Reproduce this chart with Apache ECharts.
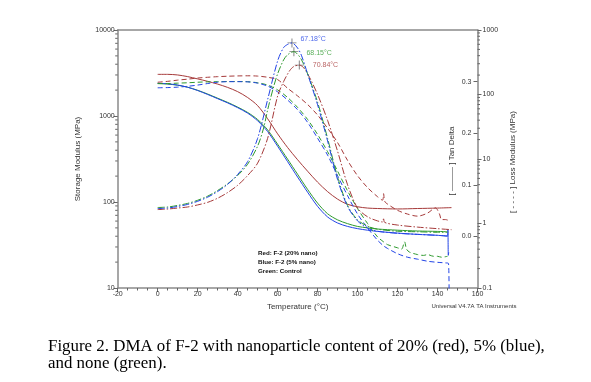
<!DOCTYPE html>
<html><head><meta charset="utf-8">
<script src="https://cdn.jsdelivr.net/npm/echarts@6/dist/echarts.min.js"></script>
<style>html,body{margin:0;padding:0;background:#fff}#c{width:591px;height:382px}</style>
</head><body><div id="c"></div>
<script>
// Storage modulus (MPa) vs temperature (°C)
const redStorage = [[0,3050],[5,3050],[10,3000],[15,2870],[20,2700],[25,2530],[30,2350],[35,2150],[40,1920],[45,1640],[50,1320],[55,930],[60,620],[65,430],[70,310],[75,228],[80,170],[85,132],[90,108],[95,94],[100,88],[105,85],[110,84],[120,83],[130,84],[140,85],[147,86]];
const blueStorage = [[0,2400],[5,2370],[10,2290],[15,2160],[20,1980],[25,1780],[30,1590],[35,1420],[40,1250],[45,1080],[50,880],[55,660],[60,445],[65,295],[70,195],[75,130],[80,89],[85,67],[90,57],[95,52],[100,49],[105,47],[110,45.5],[120,43.5],[130,42],[140,41],[145,40],[145.2,48],[145.4,24],[145.6,26]];
const greenStorage = [[0,2380],[5,2350],[10,2280],[15,2160],[20,1990],[25,1800],[30,1610],[35,1440],[40,1270],[45,1100],[50,910],[55,690],[60,470],[65,315],[70,210],[75,140],[80,97],[85,73],[90,62],[95,56],[100,52],[105,50],[110,48.5],[120,47],[130,46],[140,45.5],[145,45]];
// Tan delta
const redTan = [[0,0.052],[5,0.053],[10,0.055],[15,0.057],[20,0.061],[25,0.066],[30,0.074],[35,0.085],[40,0.099],[45,0.118],[50,0.142],[55,0.19],[60,0.272],[63,0.3],[66,0.321],[68,0.329],[70.84,0.332],[73,0.327],[76,0.308],[80,0.275],[85,0.225],[90,0.165],[95,0.1],[100,0.055],[105,0.038],[110,0.03],[112.5,0.028],[113,0.034],[113.6,0.027],[120,0.022],[130,0.018],[140,0.015],[147,0.013]];
const blueTan = [[0,0.054],[5,0.055],[10,0.058],[15,0.062],[20,0.068],[25,0.076],[30,0.087],[35,0.101],[40,0.12],[45,0.145],[50,0.19],[55,0.265],[60,0.34],[63,0.366],[65,0.372],[67.18,0.375],[70,0.365],[72,0.35],[75,0.315],[80,0.255],[85,0.185],[90,0.11],[95,0.058],[100,0.03],[105,0.016],[110,0.01],[120,0.006],[130,0.004],[140,0.002],[145,0.001]];
const greenTan = [[0,0.056],[5,0.057],[10,0.06],[15,0.064],[20,0.07],[25,0.078],[30,0.089],[35,0.102],[40,0.118],[45,0.14],[50,0.175],[53,0.21],[55,0.245],[58,0.29],[60,0.315],[63,0.342],[65,0.352],[68.15,0.358],[70,0.353],[72,0.342],[75,0.315],[80,0.26],[85,0.19],[90,0.115],[95,0.06],[100,0.032],[105,0.02],[110,0.014],[120,0.01],[130,0.009],[140,0.008],[145,0.008]];
// Loss modulus (MPa)
const redLoss = [[0,155],[5,160],[10,167],[15,173],[20,180],[25,185],[30,189],[35,192],[40,194],[45,195],[50,193],[55,185],[60,170],[65,125],[70,95],[75,70],[80,48],[85,30],[90,18],[95,9.5],[100,5.5],[105,3.6],[110,2.6],[112.5,2.3],[113,2.9],[113.6,2.2],[115,2.0],[120,1.6],[125,1.4],[130,1.3],[135,1.45],[138,1.7],[139,1.75],[141,1.4],[142,1.15],[144,1.15],[146,1.1]];
const blueLoss = [[0,127],[5,128],[10,130],[15,134],[20,140],[25,148],[30,155],[35,158],[40,158],[45,157],[50,150],[55,135],[60,110],[65,82],[70,58],[75,37],[80,21],[85,11.5],[90,5.5],[95,2.7],[100,1.4],[105,0.85],[110,0.55],[113,0.45],[115,0.41],[120,0.34],[125,0.3],[130,0.28],[135,0.26],[140,0.25],[144,0.245],[145.5,0.24],[145.8,0.07]];
const greenLoss = [[0,148],[5,148],[10,150],[15,152],[20,155],[25,157],[30,158],[35,159],[40,159],[45,158],[50,152],[55,140],[60,118],[65,90],[70,63],[75,41],[80,24],[85,13],[90,6.5],[95,3.2],[100,1.7],[105,1.0],[110,0.62],[113,0.52],[115,0.47],[120,0.42],[122,0.4],[123.5,0.52],[124.5,0.4],[126,0.36],[130,0.33],[133,0.32],[135,0.33],[138,0.31],[140,0.31],[142,0.3],[145,0.31]];
// Tan delta peaks
const peakTemps = [67.18, 68.15, 70.84];
const peakTan = [0.375, 0.358, 0.332];
// Tick labels
const xTicks = [-20,0,20,40,60,80,100,120,140,160];
const storageTicks = [10,100,1000,10000];
const tanTicks = ['0.0','0.1','0.2','0.3'];
const lossTicks = [0.1,1,10,100,1000];

const RED = '#a63a3a', BLUE = '#2244e6', GREEN = '#2e9a2e';
const AX = '#8a8a8a';
const FONT = '"Liberation Sans", Arial, sans-serif';

function minors(lo, hi) { const out = []; for (let d = lo; d < hi; d *= 10) for (let m = 2; m <= 9; m++) out.push(+(m * d).toPrecision(3)); return out; }

const solid = {type:'solid', width:1};
const dashed = {type:[5,3], width:1};
const dashdot = {type:[7,2,1.5,2], width:1};

function line(name, data, color, style, yIdx) {
  return {name, type:'line', data, yAxisIndex:yIdx, xAxisIndex:0, showSymbol:false, symbol:'none', smooth:0.3,
    lineStyle:Object.assign({color}, style), itemStyle:{color}, silent:true, animation:false, clip:true};
}

const chart = echarts.init(document.getElementById('c'), null, {renderer:'canvas'});
const tickStyle = {color:'#666', width:1};
chart.setOption({
  animation:false,
  backgroundColor:'#fff',
  grid:{left:117.7, right:113.5, top:30, bottom:94, containLabel:false},
  xAxis:[{
    type:'value', min:-20, max:160, interval:20, position:'bottom',
    name:'Temperature (°C)', nameLocation:'middle', nameGap:15,
    nameTextStyle:{fontFamily:FONT, fontSize:8, color:'#333'},
    axisLine:{show:true, onZero:false, lineStyle:{color:AX, width:1.5}},
    axisTick:{show:true, length:4, lineStyle:tickStyle},
    minorTick:{show:true, splitNumber:4, length:2.5, lineStyle:tickStyle},
    axisLabel:{fontFamily:FONT, fontSize:7, color:'#333', margin:3, formatter:v => xTicks.includes(v) ? String(v) : ''},
    splitLine:{show:false}
  },{
    type:'value', min:-20, max:160, position:'top',
    axisLine:{show:true, onZero:false, lineStyle:{color:AX, width:1.5}}, axisTick:{show:false}, axisLabel:{show:false}, splitLine:{show:false}
  }],
  yAxis:[{
    type:'log', logBase:10, min:10, max:10000, position:'left',
    name:'Storage Modulus (MPa)', nameLocation:'middle', nameGap:36,
    nameTextStyle:{fontFamily:FONT, fontSize:8, color:'#333'},
    axisLine:{show:true, onZero:false, lineStyle:{color:AX, width:1.5}},
    axisTick:{show:true, length:4, lineStyle:tickStyle},
    axisLabel:{fontFamily:FONT, fontSize:7, color:'#333', margin:3, formatter:v => storageTicks.includes(+v) ? String(+v) : ''},
    splitLine:{show:false}
  },{
    type:'value', min:-0.1, max:0.4, interval:0.1, position:'right', offset:0,
    axisLine:{show:true, onZero:false, lineStyle:{color:AX, width:1.5}},
    axisTick:{show:true, inside:true, length:4, lineStyle:tickStyle},
    axisLabel:{inside:true, showMinLabel:false, showMaxLabel:false, fontFamily:FONT, fontSize:7, color:'#333', margin:6,
      formatter:v => { const s = (Math.round(v*10)/10).toFixed(1); return tanTicks.includes(s) ? s : ''; }},
    splitLine:{show:false}
  },{
    type:'log', logBase:10, min:0.1, max:1000, position:'right', offset:0,
    axisLine:{show:false, onZero:false},
    axisTick:{show:true, length:4, lineStyle:tickStyle},
    axisLabel:{fontFamily:FONT, fontSize:7, color:'#333', margin:5, formatter:v => { const n = +(+v).toPrecision(3); return lossTicks.includes(n) ? String(n) : ''; }},
    splitLine:{show:false}
  }],
  graphic:[
    {type:'text', x:452, y:161, rotation:Math.PI/2, style:{text:'[ ——— ] Tan Delta', font:'8px '+FONT, fill:'#333', align:'center', verticalAlign:'middle'}},
    {type:'text', x:513, y:162, rotation:Math.PI/2, style:{text:'[ - - - - ] Loss Modulus (MPa)', font:'8px '+FONT, fill:'#333', align:'center', verticalAlign:'middle'}},
    {type:'text', x:474, y:306, style:{text:'Universal V4.7A TA Instruments', font:'6px '+FONT, fill:'#333', align:'center', verticalAlign:'middle'}},
    {type:'text', x:258, y:253, style:{text:'Red: F-2 (20% nano)', font:'bold 6.2px '+FONT, fill:'#111', align:'left', verticalAlign:'middle'}},
    {type:'text', x:258, y:262, style:{text:'Blue: F-2 (5% nano)', font:'bold 6.2px '+FONT, fill:'#111', align:'left', verticalAlign:'middle'}},
    {type:'text', x:258, y:271, style:{text:'Green: Control', font:'bold 6.2px '+FONT, fill:'#111', align:'left', verticalAlign:'middle'}},
    {type:'text', x:48, y:347, style:{text:'Figure 2. DMA of F-2 with nanoparticle content of 20% (red), 5% (blue),', font:'16.9px "Liberation Serif", "Times New Roman", serif', fill:'#000', align:'left', verticalAlign:'middle'}},
    {type:'text', x:48, y:364, style:{text:'and none (green).', font:'16.9px "Liberation Serif", "Times New Roman", serif', fill:'#000', align:'left', verticalAlign:'middle'}}
  ],
  series:[
    line('Red storage', redStorage, RED, solid, 0),
    line('Green storage', greenStorage, GREEN, solid, 0),
    line('Blue storage', blueStorage, BLUE, solid, 0),
    line('Red loss', redLoss, RED, dashed, 2),
    line('Green loss', greenLoss, GREEN, dashed, 2),
    line('Blue loss', blueLoss, BLUE, dashed, 2),
    line('Red tan', redTan, RED, dashdot, 1),
    line('Green tan', greenTan, GREEN, dashdot, 1),
    line('Blue tan', blueTan, BLUE, dashdot, 1),
    {type:'scatter', yAxisIndex:1, silent:true, symbol:'path://M4.5,0h1v4.5h4.5v1h-4.5v4.5h-1v-4.5h-4.5v-1h4.5z', symbolSize:9,
      itemStyle:{color:'#555'},
      data:peakTemps.map((t,i) => ({value:[t, peakTan[i]],
        label:{show:true, position:'right', distance:[4,8,9][i], offset:[0,[-4,1,0][i]], fontFamily:FONT, fontSize:7,
          color:[BLUE, GREEN, RED][i], formatter:p => p.value[0].toFixed(2)+'°C'}}))},
    {type:'custom', xAxisIndex:0, yAxisIndex:0, silent:true, clip:false,
      data:minors(10,10000).map(v => [-20, v]),
      renderItem:(params, api) => { const p = api.coord([api.value(0), api.value(1)]);
        return {type:'line', shape:{x1:p[0]-2.5, y1:p[1], x2:p[0], y2:p[1]}, style:{stroke:'#666', lineWidth:1}}; }},
    {type:'custom', xAxisIndex:0, yAxisIndex:2, silent:true, clip:false,
      data:minors(0.1,1000).map(v => [160, v]),
      renderItem:(params, api) => { const p = api.coord([api.value(0), api.value(1)]);
        return {type:'line', shape:{x1:p[0], y1:p[1], x2:p[0]+2.5, y2:p[1]}, style:{stroke:'#666', lineWidth:1}}; }}
  ]
});
</script></body></html>
